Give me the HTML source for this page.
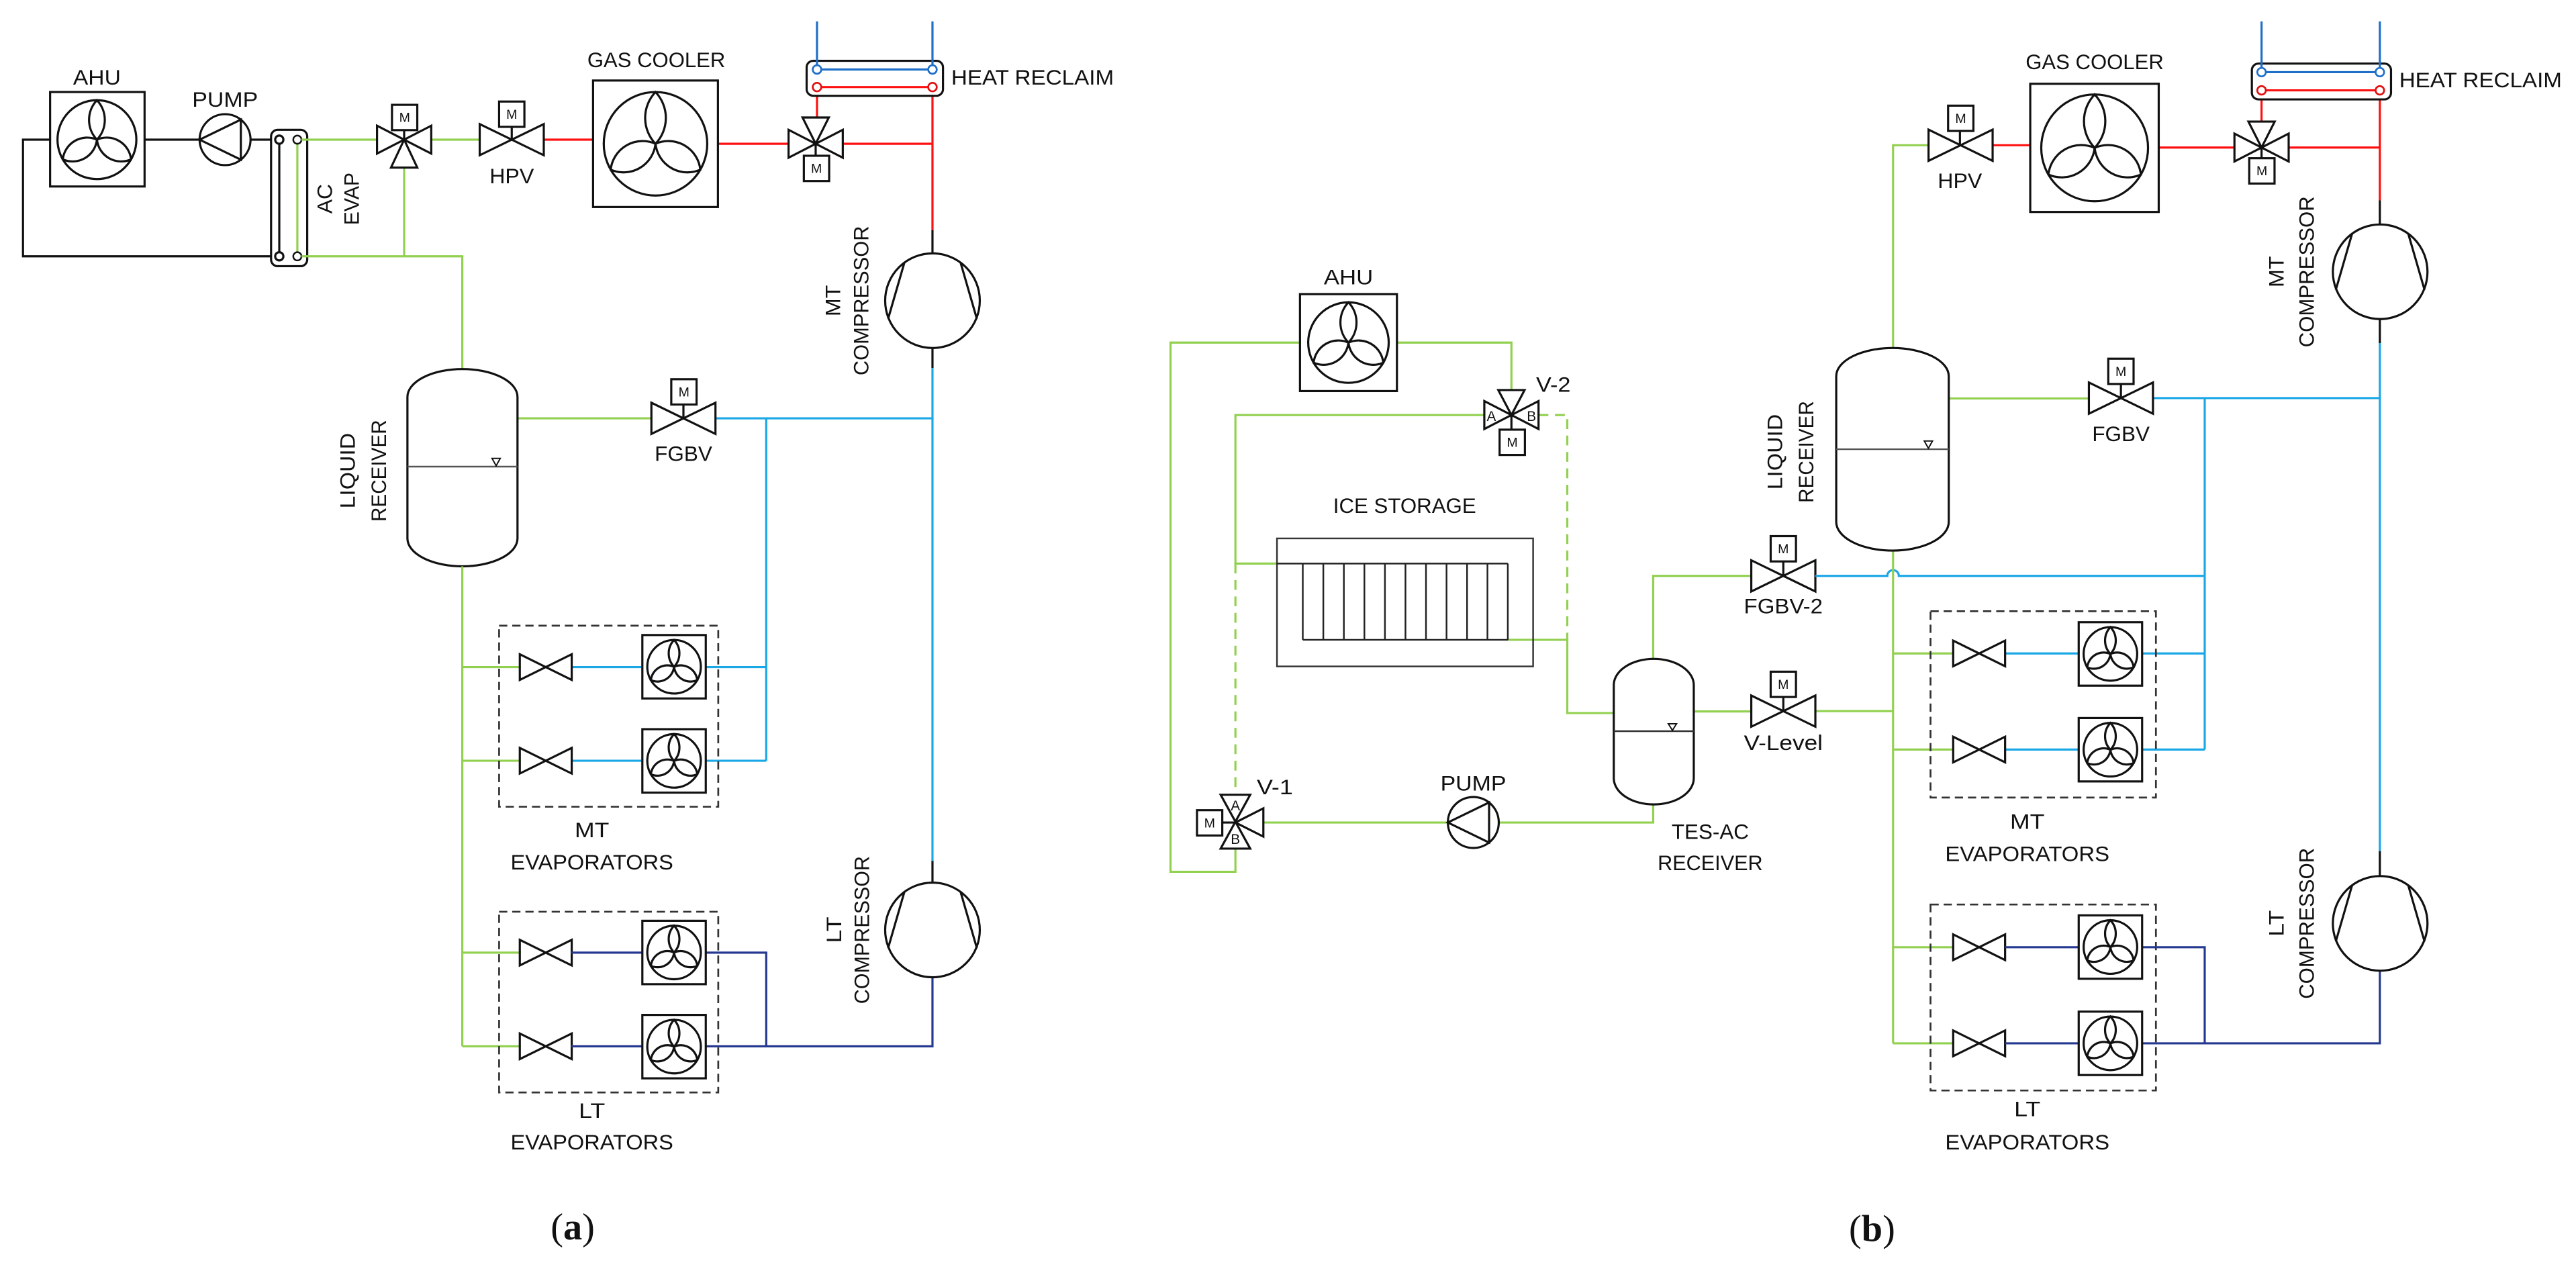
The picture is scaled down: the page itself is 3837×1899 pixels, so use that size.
<!DOCTYPE html>
<html><head><meta charset="utf-8"><style>
html,body{margin:0;padding:0;background:#fff;}
svg{display:block;}
text{font-family:"Liberation Sans",sans-serif;font-size:13px;fill:#111;dominant-baseline:central;text-anchor:middle;}
.k{stroke:#111;stroke-width:1.3;fill:none;}
.kw{stroke:#111;stroke-width:1.3;fill:#fff;}
.g{stroke:#92d050;stroke-width:1.3;fill:none;}
.gd{stroke:#92d050;stroke-width:1.3;fill:none;stroke-dasharray:6,4;}
.r{stroke:#ff1010;stroke-width:1.3;fill:none;}
.b{stroke:#1aa7e6;stroke-width:1.3;fill:none;}
.w{stroke:#1f6fc8;stroke-width:1.3;fill:none;}
.n{stroke:#24388f;stroke-width:1.3;fill:none;}
.d{stroke:#333;stroke-width:1.1;fill:none;stroke-dasharray:5,3;}
.t{stroke:#111;stroke-width:0.8;fill:none;}
.fs{fill:none;stroke:#111;stroke-width:3.2;}
</style></head><body>
<svg width="3837" height="1899" viewBox="0 0 1568 776" preserveAspectRatio="none" xmlns="http://www.w3.org/2000/svg">
<defs>
<g id="fan">
<circle r="10" fill="#fff" stroke="#111" stroke-width="3.2" vector-effect="non-scaling-stroke"/>
<path d="M0,0 A7.25,7.25 0 0 1 0,-10 A7.25,7.25 0 0 1 0,0" class="fs" vector-effect="non-scaling-stroke"/>
<path d="M0,0 A6.2,6.2 0 0 1 -8.66,5 A6.2,6.2 0 0 1 0,0" class="fs" vector-effect="non-scaling-stroke"/>
<path d="M0,0 A6.2,6.2 0 0 1 8.66,5 A6.2,6.2 0 0 1 0,0" class="fs" vector-effect="non-scaling-stroke"/>
</g>
<g id="comp">
<circle r="28.8" class="kw"/>
<path d="M-17,-23.5 L-27,11 M17,-23.5 L27,11" class="k"/>
</g>
<g id="bt19"><path d="M-19.5,-9.5 L-19.5,9.5 L19.5,-9.5 L19.5,9.5 Z" class="kw"/></g>
<g id="bt16"><path d="M-15.8,-7.8 L-15.8,7.8 L15.8,-7.8 L15.8,7.8 Z" class="kw"/></g>
<g id="bt3"><path d="M-16.5,-8.5 L-16.5,8.5 L16.5,-8.5 L16.5,8.5 Z" class="kw"/></g>
<g id="mb"><rect x="-7.7" y="-7.7" width="15.4" height="15.4" class="kw"/><text x="0" y="0.3" style="font-size:8px">M</text></g>
<g id="evfan"><rect x="-19.3" y="-19.3" width="38.6" height="38.6" class="kw"/><use href="#fan" transform="scale(1.63)"/></g>
<g id="pump"><circle r="15.5" class="kw"/><path d="M-15.5,0 L9.6,-12.2 L9.6,12.2 Z" class="k"/></g>
</defs>

<!-- ================= PANEL A ================= -->
<path d="M30.5,85 H14 V156 H170 M88,85 H121.5 M152.5,85 H170" class="k"/>
<rect x="30.5" y="56" width="57.5" height="57.5" class="kw"/>
<use href="#fan" transform="translate(59,85) scale(2.4)"/>
<text x="59" y="47" textLength="29" lengthAdjust="spacingAndGlyphs">AHU</text>
<use href="#pump" transform="translate(137,85)"/>
<text x="137" y="60.5" textLength="40" lengthAdjust="spacingAndGlyphs">PUMP</text>
<rect x="165" y="79" width="22" height="83" rx="4" class="kw"/>
<path d="M170,85 V156" class="k"/>
<path d="M181,85 V156" class="g"/>
<circle cx="170" cy="85" r="2.5" class="kw"/><circle cx="170" cy="156" r="2.5" class="kw"/>
<circle cx="181" cy="85" r="2.5" fill="#fff" stroke="#111" stroke-width="1"/><circle cx="181" cy="156" r="2.5" fill="#fff" stroke="#111" stroke-width="1"/>
<text transform="translate(197.5,121) rotate(-90)" textLength="18" lengthAdjust="spacingAndGlyphs">AC</text>
<text transform="translate(214,121) rotate(-90)" textLength="32" lengthAdjust="spacingAndGlyphs">EVAP</text>
<path d="M183.5,85 H230 M262,85 H292.5 M246,102 V156 M183.5,156 H281.4 V224.6 M315,254.6 H397" class="g"/>
<path d="M246,79 V85" class="k"/>
<use href="#bt3" transform="translate(246,85)"/>
<path d="M246,85 L238,102 L254,102 Z" class="kw"/>
<use href="#mb" transform="translate(246.3,71.5)"/>
<path d="M330.5,85 H361 M437,87.5 H480.5" class="r"/>
<path d="M311.5,77 V85" class="k"/>
<use href="#bt19" transform="translate(311.5,85)"/>
<use href="#mb" transform="translate(311.5,69.5)"/>
<text x="311.5" y="107" textLength="27" lengthAdjust="spacingAndGlyphs">HPV</text>
<rect x="361" y="49" width="76" height="77" class="kw"/>
<use href="#fan" transform="translate(399,87.5) scale(3.15)"/>
<text x="399.5" y="36.3" textLength="84" lengthAdjust="spacingAndGlyphs">GAS COOLER</text>
<path d="M497.3,71.5 V53 M512.5,87.5 H567.6 M567.6,53 V140" class="r"/>
<path d="M567.6,140 V154.5 M567.6,211.5 V224" class="k"/>
<rect x="491" y="37" width="83" height="21.3" rx="4" class="kw"/>
<path d="M497.3,13 V42.3 M567.6,13 V42.3 M497.3,42.3 H567.6" class="w"/>
<path d="M497.3,53 H567.6" class="r"/>
<circle cx="497.3" cy="42.3" r="2.6" fill="#fff" stroke="#1f6fc8" stroke-width="1.1"/><circle cx="567.6" cy="42.3" r="2.6" fill="#fff" stroke="#1f6fc8" stroke-width="1.1"/>
<circle cx="497.3" cy="53" r="2.6" fill="#fff" stroke="#e01010" stroke-width="1.1"/><circle cx="567.6" cy="53" r="2.6" fill="#fff" stroke="#e01010" stroke-width="1.1"/>
<text x="579" y="47" style="text-anchor:start" textLength="99" lengthAdjust="spacingAndGlyphs">HEAT RECLAIM</text>
<path d="M496.5,87.5 V95" class="k"/>
<use href="#bt3" transform="translate(496.5,87.5)"/>
<path d="M496.5,87.5 L488.5,71.5 L504.5,71.5 Z" class="kw"/>
<use href="#mb" transform="translate(497,102.5)"/>
<use href="#comp" transform="translate(567.6,183)"/>
<text transform="translate(507,183) rotate(-90)" textLength="19" lengthAdjust="spacingAndGlyphs">MT</text>
<text transform="translate(524,183) rotate(-90)" textLength="91" lengthAdjust="spacingAndGlyphs">COMPRESSOR</text>
<path d="M567.6,224 V524 M435,254.6 H567.6 M466.4,254.6 V463 M429.6,406 H466.4 M429.6,463 H466.4 M347.8,406 H391 M347.8,463 H391" class="b"/>
<path d="M567.6,524 V537.5" class="k"/>
<path d="M248,241.6 A33.5,17 0 0 1 315,241.6 V327.7 A33.5,17 0 0 1 248,327.7 Z" class="kw"/>
<path d="M248,284 H315" stroke="#555" stroke-width="1" fill="none"/>
<path d="M299.5,279 L304.5,279 L302,283.5 Z" class="t" fill="#fff"/>
<text transform="translate(211.5,286.5) rotate(-90)" textLength="46" lengthAdjust="spacingAndGlyphs">LIQUID</text>
<text transform="translate(230.5,286.5) rotate(-90)" textLength="62" lengthAdjust="spacingAndGlyphs">RECEIVER</text>
<path d="M416,246 V254.6" class="k"/>
<use href="#bt19" transform="translate(416,254.6)"/>
<use href="#mb" transform="translate(416.3,238.5)"/>
<text x="416" y="276" textLength="35" lengthAdjust="spacingAndGlyphs">FGBV</text>
<path d="M281.4,344.7 V636.8 M281.4,406 H316.4 M281.4,463 H316.4 M281.4,579.8 H316.4 M281.4,636.8 H316.4" class="g"/>
<rect x="303.8" y="380.8" width="133.4" height="110.2" class="d"/>
<rect x="303.8" y="554.9" width="133.4" height="110" class="d"/>
<use href="#bt16" transform="translate(332.2,406)"/>
<use href="#bt16" transform="translate(332.2,463)"/>
<use href="#bt16" transform="translate(332.2,579.8)"/>
<use href="#bt16" transform="translate(332.2,636.8)"/>
<path d="M347.8,579.8 H391 M347.8,636.8 H391 M429.6,579.8 H466.4 V636.8 M429.6,636.8 H567.6 V594.8" class="n"/>
<use href="#evfan" transform="translate(410.3,405.8)"/>
<use href="#evfan" transform="translate(410.3,463.1)"/>
<use href="#evfan" transform="translate(410.3,579.7)"/>
<use href="#evfan" transform="translate(410.3,637)"/>
<text x="360.3" y="505" textLength="21" lengthAdjust="spacingAndGlyphs">MT</text>
<text x="360.3" y="524.6" textLength="99" lengthAdjust="spacingAndGlyphs">EVAPORATORS</text>
<text x="360.3" y="675.8" textLength="16" lengthAdjust="spacingAndGlyphs">LT</text>
<text x="360.3" y="695" textLength="99" lengthAdjust="spacingAndGlyphs">EVAPORATORS</text>
<use href="#comp" transform="translate(567.6,566)"/>
<text transform="translate(507.6,566) rotate(-90)" textLength="16" lengthAdjust="spacingAndGlyphs">LT</text>
<text transform="translate(524.5,566) rotate(-90)" textLength="90" lengthAdjust="spacingAndGlyphs">COMPRESSOR</text>
<text x="348.6" y="747" style="font-family:'Liberation Serif',serif;font-size:23px">(<tspan font-weight="bold">a</tspan>)</text>

<!-- ================= PANEL B ================= -->
<path d="M791,208.5 H712.5 V530.6 H752 V516.5 M850,208.5 H920 V237.4 M903.5,252.6 H752 V343 H777.3 M918,389.4 H954 V434 H982.3" class="g"/>
<path d="M752,343 V483.7 M936.5,252.6 H954 V389.4" class="gd"/>
<rect x="791.3" y="179" width="59" height="59" class="kw"/>
<use href="#fan" transform="translate(820.8,208.5) scale(2.45)"/>
<text x="820.8" y="168.5" textLength="30" lengthAdjust="spacingAndGlyphs">AHU</text>
<path d="M920,252.6 V261.5" class="k"/>
<use href="#bt3" transform="translate(920,252.6)"/>
<path d="M920,252.6 L912,237.4 L928,237.4 Z" class="kw"/>
<use href="#mb" transform="translate(920.5,269.2)"/>
<text x="907.8" y="253.5" style="font-size:8.5px">A</text>
<text x="932.2" y="253.5" style="font-size:8.5px">B</text>
<text x="935" y="234" style="text-anchor:start" textLength="21" lengthAdjust="spacingAndGlyphs">V-2</text>
<rect x="777.3" y="327.7" width="155.9" height="77.9" stroke="#333" stroke-width="1" fill="none"/>
<path d="M777.3,343 H917.8 M793,389.4 H918 M793,343 V389.4 M805.5,343 V389.4 M818,343 V389.4 M830.5,343 V389.4 M843,343 V389.4 M855.5,343 V389.4 M868,343 V389.4 M880.5,343 V389.4 M893,343 V389.4 M905.4,343 V389.4 M917.8,343 V389.4" stroke="#222" stroke-width="1" fill="none"/>
<text x="855" y="307.8" textLength="87" lengthAdjust="spacingAndGlyphs">ICE STORAGE</text>
<path d="M769,500.6 H881 M912.3,500.6 H1006.3 V489.6" class="g"/>
<path d="M744,500.6 H752" class="k"/>
<path d="M743,483.7 L761,483.7 L743,516.5 L761,516.5 Z" class="kw"/>
<path d="M752,500.6 L769,492 L769,509.2 Z" class="kw"/>
<use href="#mb" transform="translate(736.3,500.8)"/>
<text x="752" y="490.5" style="font-size:8.5px">A</text>
<text x="752" y="511" style="font-size:8.5px">B</text>
<text x="765" y="479" style="text-anchor:start" textLength="22" lengthAdjust="spacingAndGlyphs">V-1</text>
<use href="#pump" transform="translate(896.8,500.6)"/>
<text x="896.8" y="476.7" textLength="40" lengthAdjust="spacingAndGlyphs">PUMP</text>
<path d="M1006.3,401 V350.5 H1066 M1031,433 H1066 M1105,432.8 H1152.3" class="g"/>
<path d="M982.3,417 A24.35,16 0 0 1 1031,417 V473.6 A24.35,16 0 0 1 982.3,473.6 Z" class="kw"/>
<path d="M982.3,445 H1031" stroke="#333" stroke-width="1" fill="none"/>
<path d="M1015.5,440.5 L1020.5,440.5 L1018,444.5 Z" class="t" fill="#fff"/>
<text x="1041" y="506" textLength="47" lengthAdjust="spacingAndGlyphs">TES-AC</text>
<text x="1041" y="525" textLength="64" lengthAdjust="spacingAndGlyphs">RECEIVER</text>
<path d="M1085.5,342 V350.5 M1085.5,424.4 V432.8" class="k"/>
<use href="#bt19" transform="translate(1085.5,350.5)"/>
<use href="#mb" transform="translate(1085.5,334)"/>
<text x="1085.5" y="368.8" textLength="48" lengthAdjust="spacingAndGlyphs">FGBV-2</text>
<use href="#bt19" transform="translate(1085.5,432.8)"/>
<use href="#mb" transform="translate(1085.5,416.5)"/>
<text x="1085.5" y="452" textLength="48" lengthAdjust="spacingAndGlyphs">V-Level</text>
<path d="M1105,350.5 H1148.8 A3.5,3.5 0 0 1 1155.8,350.5 H1342 M1310.8,242.3 H1448.6 M1342,242.3 V456.2 M1220.5,397.7 H1265 M1220.5,456.2 H1265 M1304,397.7 H1342 M1304,456.2 H1342 M1448.6,208.8 V518" class="b"/>
<path d="M1152.3,211.8 V88.4 H1174 M1186.2,242.5 H1271.4 M1152.3,335 V635 M1152.3,397.7 H1188.7 M1152.3,456.2 H1188.7 M1152.3,576.5 H1188.7 M1152.3,635 H1188.7" class="g"/>
<path d="M1117.7,229 A34.25,17.2 0 0 1 1186.2,229 V317.6 A34.25,17.5 0 0 1 1117.7,317.6 Z" class="kw"/>
<path d="M1117.7,273.4 H1186.2" stroke="#555" stroke-width="1" fill="none"/>
<path d="M1171.3,268.4 L1176.3,268.4 L1173.8,272.8 Z" class="t" fill="#fff"/>
<text transform="translate(1080.2,275) rotate(-90)" textLength="46" lengthAdjust="spacingAndGlyphs">LIQUID</text>
<text transform="translate(1099.3,275) rotate(-90)" textLength="62" lengthAdjust="spacingAndGlyphs">RECEIVER</text>
<path d="M1213,88.4 H1236 M1314,89.8 H1360 M1376.6,74 V55 M1393.6,89.8 H1448.6 M1448.6,55 V122" class="r"/>
<path d="M1193,80 V88.4" class="k"/>
<use href="#bt19" transform="translate(1193.4,88.4)"/>
<use href="#mb" transform="translate(1193.5,72)"/>
<text x="1193" y="110" textLength="27" lengthAdjust="spacingAndGlyphs">HPV</text>
<rect x="1235.8" y="51" width="78.2" height="78" class="kw"/>
<use href="#fan" transform="translate(1275,90) scale(3.25)"/>
<text x="1275" y="37.5" textLength="84" lengthAdjust="spacingAndGlyphs">GAS COOLER</text>
<path d="M1376.6,89.8 V96" class="k"/>
<use href="#bt3" transform="translate(1376.6,89.8)"/>
<path d="M1376.6,89.8 L1368.6,74 L1384.6,74 Z" class="kw"/>
<use href="#mb" transform="translate(1376.8,104)"/>
<rect x="1370.7" y="38.7" width="84.7" height="21.8" rx="4" class="kw"/>
<path d="M1376.6,13 V43.9 M1448.6,13 V43.9 M1376.6,43.9 H1448.6" class="w"/>
<path d="M1376.6,55 H1448.6" class="r"/>
<circle cx="1376.6" cy="43.9" r="2.6" fill="#fff" stroke="#1f6fc8" stroke-width="1.1"/><circle cx="1448.6" cy="43.9" r="2.6" fill="#fff" stroke="#1f6fc8" stroke-width="1.1"/>
<circle cx="1376.6" cy="55" r="2.6" fill="#fff" stroke="#e01010" stroke-width="1.1"/><circle cx="1448.6" cy="55" r="2.6" fill="#fff" stroke="#e01010" stroke-width="1.1"/>
<text x="1460.4" y="48.6" style="text-anchor:start" textLength="99" lengthAdjust="spacingAndGlyphs">HEAT RECLAIM</text>
<path d="M1448.6,122 V136.4 M1448.6,194.4 V208.8 M1448.6,518 V533" class="k"/>
<use href="#comp" transform="translate(1448.8,165.4)"/>
<text transform="translate(1385.5,165.4) rotate(-90)" textLength="19" lengthAdjust="spacingAndGlyphs">MT</text>
<text transform="translate(1404,165.4) rotate(-90)" textLength="92" lengthAdjust="spacingAndGlyphs">COMPRESSOR</text>
<path d="M1291,234 V242.3" class="k"/>
<use href="#bt19" transform="translate(1291,242.3)"/>
<use href="#mb" transform="translate(1291,226)"/>
<text x="1291" y="264" textLength="35" lengthAdjust="spacingAndGlyphs">FGBV</text>
<rect x="1175.1" y="372" width="137.2" height="113.4" class="d"/>
<rect x="1175.1" y="550.5" width="137.2" height="113.2" class="d"/>
<use href="#bt16" transform="translate(1204.7,397.7)"/>
<use href="#bt16" transform="translate(1204.7,456.2)"/>
<use href="#bt16" transform="translate(1204.7,576.5)"/>
<use href="#bt16" transform="translate(1204.7,635)"/>
<path d="M1220.5,576.5 H1265 M1220.5,635 H1265 M1304,576.5 H1342 V635 M1304,635 H1448.6 V591" class="n"/>
<use href="#evfan" transform="translate(1284.6,398)"/>
<use href="#evfan" transform="translate(1284.6,456.3)"/>
<use href="#evfan" transform="translate(1284.6,576.4)"/>
<use href="#evfan" transform="translate(1284.6,635)"/>
<text x="1234" y="500" textLength="21" lengthAdjust="spacingAndGlyphs">MT</text>
<text x="1234" y="519.6" textLength="100" lengthAdjust="spacingAndGlyphs">EVAPORATORS</text>
<text x="1234" y="674.9" textLength="16" lengthAdjust="spacingAndGlyphs">LT</text>
<text x="1234" y="695" textLength="100" lengthAdjust="spacingAndGlyphs">EVAPORATORS</text>
<use href="#comp" transform="translate(1448.8,562)"/>
<text transform="translate(1385.5,562) rotate(-90)" textLength="16" lengthAdjust="spacingAndGlyphs">LT</text>
<text transform="translate(1404,562) rotate(-90)" textLength="92" lengthAdjust="spacingAndGlyphs">COMPRESSOR</text>
<text x="1139.5" y="748" style="font-family:'Liberation Serif',serif;font-size:23px">(<tspan font-weight="bold">b</tspan>)</text>
</svg>
</body></html>
